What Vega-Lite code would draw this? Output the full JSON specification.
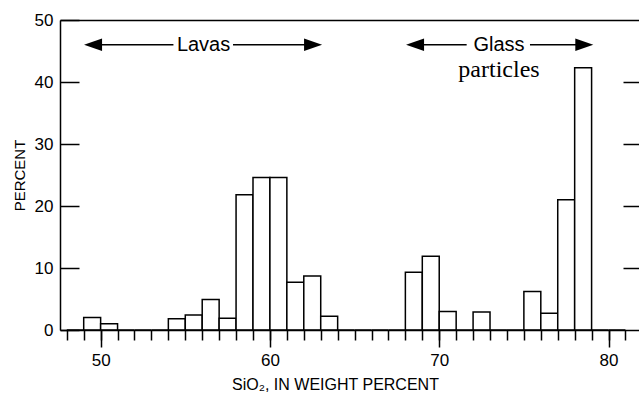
{
  "$schema": "https://vega.github.io/schema/vega-lite/v6.json",
  "autosize": {"type": "none"},
  "padding": {"left": 60, "top": 20, "right": 0, "bottom": 64},
  "width": 579,
  "height": 310,
  "background": "white",
  "config": {
    "view": {"stroke": null},
    "font": "Liberation Sans",
    "axis": {"grid": false, "domainColor": "black", "tickColor": "black", "labelColor": "black", "titleColor": "black", "titleFontWeight": "normal", "labelFont": "Liberation Sans", "titleFont": "Liberation Sans"}
  },
  "datasets": {
    "bins": [
      {"start": 48, "end": 49, "pct": 0},
      {"start": 49, "end": 50, "pct": 2.0},
      {"start": 50, "end": 51, "pct": 1.0},
      {"start": 51, "end": 52, "pct": 0},
      {"start": 52, "end": 53, "pct": 0},
      {"start": 53, "end": 54, "pct": 0},
      {"start": 54, "end": 55, "pct": 1.8},
      {"start": 55, "end": 56, "pct": 2.4},
      {"start": 56, "end": 57, "pct": 4.9},
      {"start": 57, "end": 58, "pct": 1.9},
      {"start": 58, "end": 59, "pct": 21.8},
      {"start": 59, "end": 60, "pct": 24.6},
      {"start": 60, "end": 61, "pct": 24.6},
      {"start": 61, "end": 62, "pct": 7.7},
      {"start": 62, "end": 63, "pct": 8.7},
      {"start": 63, "end": 64, "pct": 2.2},
      {"start": 64, "end": 65, "pct": 0},
      {"start": 65, "end": 66, "pct": 0},
      {"start": 66, "end": 67, "pct": 0},
      {"start": 67, "end": 68, "pct": 0},
      {"start": 68, "end": 69, "pct": 9.3},
      {"start": 69, "end": 70, "pct": 11.9},
      {"start": 70, "end": 71, "pct": 3.0},
      {"start": 71, "end": 72, "pct": 0},
      {"start": 72, "end": 73, "pct": 2.9},
      {"start": 73, "end": 74, "pct": 0},
      {"start": 74, "end": 75, "pct": 0},
      {"start": 75, "end": 76, "pct": 6.2},
      {"start": 76, "end": 77, "pct": 2.7},
      {"start": 77, "end": 78, "pct": 21.0},
      {"start": 78, "end": 79, "pct": 42.3},
      {"start": 79, "end": 80, "pct": 0},
      {"start": 80, "end": 81, "pct": 0}
    ],
    "labels": [
      {"x": 56.08, "y": 46, "text": "Lavas", "kind": "sans"},
      {"x": 73.53, "y": 46, "text": "Glass", "kind": "sans"},
      {"x": 73.53, "y": 40.8, "text": "particles", "kind": "serif"}
    ],
    "lines": [
      {"x": 49.5, "x2": 54.3, "y": 46},
      {"x": 57.82, "x2": 62.7, "y": 46},
      {"x": 68.5, "x2": 71.62, "y": 46},
      {"x": 75.36, "x2": 78.7, "y": 46}
    ],
    "heads": [
      {"x": 49.02, "y": 46, "dir": "left"},
      {"x": 63.08, "y": 46, "dir": "right"},
      {"x": 68.04, "y": 46, "dir": "left"},
      {"x": 79.1, "y": 46, "dir": "right"}
    ]
  },
  "resolve": {"axis": {"x": "independent", "y": "independent"}},
  "layer": [
    {
      "data": {"name": "bins"},
      "mark": {"type": "rect", "fill": "white", "stroke": "black", "strokeWidth": 1.5, "clip": true},
      "encoding": {
        "x": {"field": "start", "type": "quantitative", "scale": {"domain": [47.6, 81.8], "nice": false, "zero": false},
          "axis": {"orient": "bottom", "values": [50, 60, 70, 80], "tickSize": 17, "tickWidth": 1.5, "domainWidth": 1.5, "labelFontSize": 17, "labelPadding": 5, "labelFlush": false, "zindex": 1,
            "title": "SiO₂, IN WEIGHT PERCENT", "titleFontSize": 16, "titleX": 275, "titleY": 59, "titleBaseline": "alphabetic"}},
        "x2": {"field": "end"},
        "y": {"field": "pct", "type": "quantitative", "scale": {"domain": [0, 50], "nice": false},
          "axis": {"orient": "left", "values": [0, 10, 20, 30, 40, 50], "tickSize": -19, "tickWidth": 1.5, "domainWidth": 1.5, "labelFontSize": 17, "labelPadding": 26, "labelFlush": false, "zindex": 1,
            "title": "PERCENT", "titleFontSize": 15, "titleX": -41, "titleY": 155, "titleBaseline": "middle", "titleAngle": -90}},
        "y2": {"datum": 0}
      }
    },
    {
      "data": {"name": "labels"},
      "transform": [{"filter": "datum.kind === 'sans'"}],
      "mark": {"type": "text", "baseline": "middle", "align": "center", "font": "Liberation Sans", "fontSize": 20},
      "encoding": {
        "x": {"field": "x", "type": "quantitative",
          "axis": {"orient": "bottom", "values": [48,49,50,51,52,53,54,55,56,57,58,59,60,61,62,63,64,65,66,67,68,69,70,71,72,73,74,75,76,77,78,79,80,81], "tickSize": 10, "tickWidth": 1.5, "labels": false, "domain": false, "title": null, "zindex": 1}},
        "y": {"field": "y", "type": "quantitative",
          "axis": {"orient": "right", "values": [10, 20, 30, 40], "tickSize": -16, "tickWidth": 1.5, "labels": false, "domain": false, "title": null}},
        "text": {"field": "text"}
      }
    },
    {
      "data": {"name": "labels"},
      "transform": [{"filter": "datum.kind === 'serif'"}],
      "mark": {"type": "text", "baseline": "alphabetic", "align": "center", "font": "Liberation Serif", "fontSize": 24},
      "encoding": {
        "x": {"field": "x", "type": "quantitative", "axis": null},
        "y": {"field": "y", "type": "quantitative", "axis": null},
        "text": {"field": "text"}
      }
    },
    {
      "data": {"name": "lines"},
      "mark": {"type": "rule", "stroke": "black", "strokeWidth": 1.5},
      "encoding": {
        "x": {"field": "x", "type": "quantitative",
          "axis": {"orient": "top", "domain": true, "domainWidth": 1.5, "ticks": false, "labels": false, "title": null}},
        "x2": {"field": "x2"},
        "y": {"field": "y", "type": "quantitative", "axis": null}
      }
    },
    {
      "data": {"name": "heads"},
      "mark": {"type": "point", "filled": true, "fill": "black", "stroke": null, "opacity": 1, "size": 324},
      "encoding": {
        "x": {"field": "x", "type": "quantitative", "axis": null},
        "y": {"field": "y", "type": "quantitative", "axis": null},
        "shape": {"field": "dir", "type": "nominal", "scale": {"domain": ["left", "right"], "range": ["M 0 0 L 2 -0.7 L 2 0.7 Z", "M 0 0 L -2 -0.7 L -2 0.7 Z"]}, "legend": null}
      }
    }
  ]
}
